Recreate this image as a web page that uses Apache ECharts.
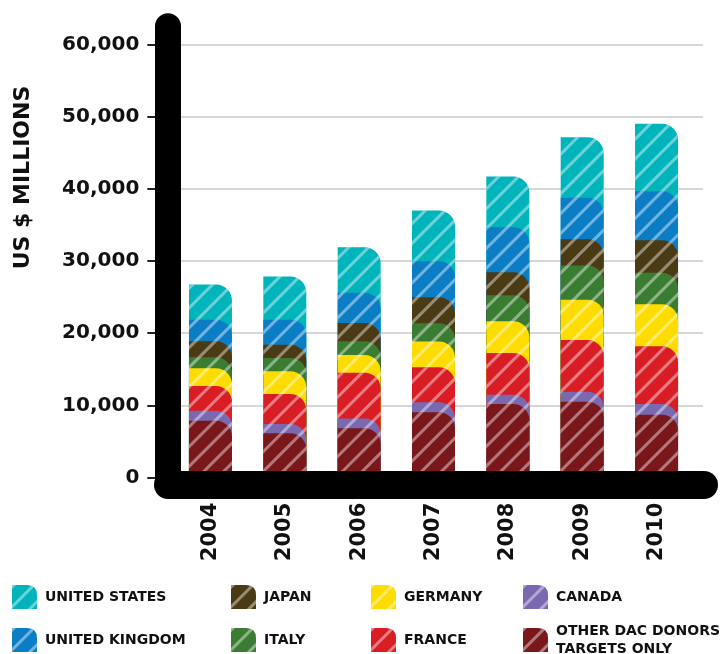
<!DOCTYPE html>
<html><head><meta charset="utf-8">
<script src="https://cdn.jsdelivr.net/npm/echarts@6/dist/echarts.min.js"></script>
<style>html,body{margin:0;padding:0;background:#fff}#c{width:724px;height:654px}</style>
</head><body><div id="c"></div>
<script>
const years = ['2004','2005','2006','2007','2008','2009','2010'];
const unitedStates = [4850, 5960, 6280, 7020, 7020, 8390, 9340];
const unitedKingdom = [3000, 3460, 4200, 4990, 6230, 5730, 6780];
const japan = [2220, 1840, 2540, 3600, 3190, 3650, 4480];
const italy = [1520, 1860, 1890, 2530, 3600, 4710, 4390];
const germany = [2440, 3130, 2450, 3560, 4380, 5580, 5810];
const france = [3420, 4150, 6330, 4850, 5770, 7160, 7990];
const canada = [1380, 1300, 1380, 1380, 1300, 1380, 1470];
const otherDac = [7900, 6140, 6830, 9050, 10200, 10530, 8730];
const yTicks = [0, 10000, 20000, 30000, 40000, 50000, 60000];

// bottom -> top stacking order
const layers = [
  {name:'OTHER DAC DONORS\nTARGETS ONLY', data: otherDac, color:'#7a171b'},
  {name:'CANADA', data: canada, color:'#7a69b1'},
  {name:'FRANCE', data: france, color:'#d91d25'},
  {name:'GERMANY', data: germany, color:'#ffdc00'},
  {name:'ITALY', data: italy, color:'#3a7c32'},
  {name:'JAPAN', data: japan, color:'#4b3b14'},
  {name:'UNITED KINGDOM', data: unitedKingdom, color:'#0a7dc5'},
  {name:'UNITED STATES', data: unitedStates, color:'#00b4bc'}
];
const running = years.map(() => 0);
layers.forEach(l => { l.cum = l.data.map((v, i) => (running[i] += v)); });

const decal = {symbol:'rect', symbolSize:1, dashArrayX:[[1,0]], dashArrayY:[3,11], rotation:-Math.PI/4, color:'rgba(255,255,255,0.42)'};
const FONT = 'DejaVu Sans';
const iconPath = 'path://M0,24 L0,1 Q0,0 1,0 L15,0 Q25,0 25,10 L25,24 Z';

const series = layers.slice().reverse().map(l => ({
  type:'bar', name:l.name, xAxisIndex:0, yAxisIndex:0,
  data:l.cum, barWidth:43, barGap:'-100%',
  itemStyle:{color:l.color, borderRadius:[0,16,0,0], decal:decal},
  emphasis:{disabled:true}, animation:false
}));

function legendItem(left, top, name){
  return {orient:'horizontal', left:left, top:top, padding:0, itemWidth:25, itemHeight:24,
    icon:iconPath, data:[name], selectedMode:false,
    textStyle:{fontFamily:FONT, fontWeight:'bold', fontSize:14, color:'#111', lineHeight:18, padding:[0,0,0,3]}};
}

const chart = echarts.init(document.getElementById('c'), null, {renderer:'canvas'});
chart.setOption({
  animation:false,
  backgroundColor:'#fff',
  grid:[
    {left:173.3, right:30.3, top:44.3, bottom:176.3},
    {left:168, right:20, top:26.3, bottom:169},
    {left:181, right:21, top:44.3, bottom:176.3}
  ],
  xAxis:[
    {type:'category', gridIndex:0, data:years, axisLine:{show:false}, axisTick:{show:false},
     axisLabel:{rotate:90, margin:25, fontFamily:FONT, fontWeight:'bold', fontSize:21, color:'#111'}},
    {type:'value', gridIndex:1, min:0, max:1, z:10, axisLine:{show:true, onZero:false, lineStyle:{color:'#000', width:28, cap:'round'}},
     axisTick:{show:false}, axisLabel:{show:false}, splitLine:{show:false}},
    {type:'value', gridIndex:2, min:0, max:1, show:false}
  ],
  yAxis:[
    {type:'value', gridIndex:0, min:0, max:60000, interval:10000, axisLine:{show:false},
     axisTick:{show:true, length:26, lineStyle:{color:'#222', width:2}},
     splitLine:{show:false},
     axisLabel:{margin:34, fontFamily:FONT, fontWeight:'bold', fontSize:20, color:'#111',
       formatter: v => v.toLocaleString('en-US')}},
    {type:'value', gridIndex:1, min:0, max:1, z:10, axisLine:{show:true, onZero:false, lineStyle:{color:'#000', width:26, cap:'round'}},
     axisTick:{show:false}, axisLabel:{show:false}, splitLine:{show:false}},
    {type:'value', gridIndex:2, min:0, max:60000, interval:10000, axisLine:{show:false}, axisTick:{show:false},
     axisLabel:{show:false}, splitLine:{show:true, lineStyle:{color:'#d6d6d6', width:2}}}
  ],
  legend:[
    legendItem(12, 585, 'UNITED STATES'),
    legendItem(12, 628, 'UNITED KINGDOM'),
    legendItem(231, 585, 'JAPAN'),
    legendItem(231, 628, 'ITALY'),
    legendItem(371, 585, 'GERMANY'),
    legendItem(371, 628, 'FRANCE'),
    legendItem(523, 585, 'CANADA'),
    legendItem(523, 622, 'OTHER DAC DONORS\nTARGETS ONLY')
  ],
  graphic:[
    {type:'text', x:23.5, y:177.5, rotation:Math.PI/2,
     style:{text:'US $ MILLIONS', font:'bold 22px "DejaVu Sans"', fill:'#111', align:'center', verticalAlign:'middle'}}
  ],
  series:series
});
</script></body></html>
